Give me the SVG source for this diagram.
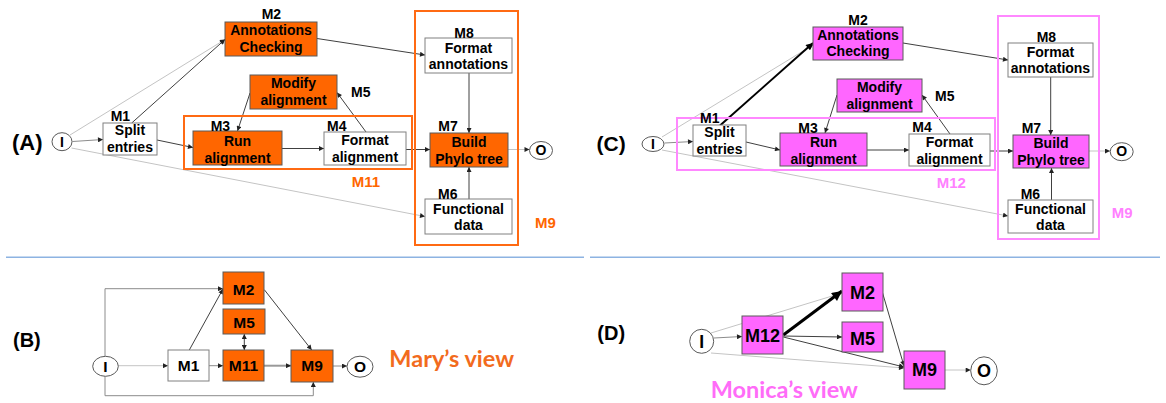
<svg xmlns="http://www.w3.org/2000/svg" width="1166" height="403" viewBox="0 0 1166 403">
<style>
.bg{fill:#fff}
.nw{fill:#fff;stroke:#808080;stroke-width:1}
.no{fill:#ff6600;stroke:#5a5a5a;stroke-width:1}
.nm{fill:#ff66ff;stroke:#5a5a5a;stroke-width:1}
.io{fill:#fff;stroke:#595959;stroke-width:1}
.grpO{fill:none;stroke:#ff6a13;stroke-width:2}
.grpM{fill:none;stroke:#ff88ff;stroke-width:2}
text{font-family:"Liberation Sans",Arial,sans-serif;font-weight:bold;fill:#000}
.t14{font-size:14px;text-anchor:middle}
.l14{font-size:14px}
.ol{font-size:15px;fill:#ff6600}
.ml{font-size:15px;fill:#ff80ff}
.pl{font-size:21px}
.tb{font-size:15.5px;text-anchor:middle}
.td{font-size:18px;text-anchor:middle}
.view{font-family:Lato,"Open Sans",sans-serif;font-weight:bold;font-size:23.5px}
.cd{fill:none;stroke:#404040;stroke-width:1;marker-end:url(#ah)}
.cg{fill:none;stroke:#8c8c8c;stroke-width:1;marker-end:url(#ah)}
.cl{fill:none;stroke:#c4c4c4;stroke-width:1;marker-end:url(#ah)}
.div{stroke:#8db3e2;stroke-width:1.5}
</style>
<defs>
<marker id="ah" viewBox="0 0 10 10" refX="10" refY="5" markerWidth="6" markerHeight="5" markerUnits="userSpaceOnUse" orient="auto"><path d="M0,0 L10,5 L0,10 z" fill="#222"/></marker>
<marker id="ahs" viewBox="0 0 10 10" refX="10" refY="5" markerWidth="6" markerHeight="5" markerUnits="userSpaceOnUse" orient="auto-start-reverse"><path d="M0,0 L10,5 L0,10 z" fill="#222"/></marker>
<marker id="ahM" viewBox="0 0 10 10" refX="10" refY="5" markerWidth="8" markerHeight="7" markerUnits="userSpaceOnUse" orient="auto"><path d="M0,0 L10,5 L0,10 z" fill="#000"/></marker>
<marker id="ahB" viewBox="0 0 10 10" refX="10" refY="5" markerWidth="12" markerHeight="10" markerUnits="userSpaceOnUse" orient="auto"><path d="M0,0 L10,5 L0,10 z" fill="#000"/></marker>
</defs>
<rect class="bg" x="0" y="0" width="1166" height="403"/>

<g id="dividers">
<line class="div" x1="6" y1="257.3" x2="584" y2="257.3"/>
<line class="div" x1="590" y1="257.3" x2="1160" y2="257.3"/>
</g>

<g id="panel-labels">
<text class="pl" x="12" y="150" style="font-size:22px">(A)</text>
<text class="pl" x="596.5" y="151">(C)</text>
<text class="pl" x="13" y="346.5" style="font-size:20px">(B)</text>
<text class="pl" x="597.3" y="340" style="font-size:20px">(D)</text>
<text class="view" x="389.3" y="366.7" style="fill:#f26b1d">Mary’s view</text>
<text class="view" x="710.7" y="398" style="fill:#ff6cf8">Monica’s view</text>
</g>

<!-- ===== Panel A ===== -->
<g id="connectors-A">
<path class="cl" d="M70,135 L225,39.5"/>
<path class="cd" d="M131.7,123 L225,39.5"/>
<path class="cg" d="M72.5,141.5 L103,139.5"/>
<path class="cl" d="M71.5,148 L425,216.5"/>
<path class="cd" d="M157,140 L193,147.5"/>
<path class="cd" d="M250,93 L237.5,131"/>
<path class="cd" d="M282,148.5 L324,148.5"/>
<path class="cd" d="M366,132 L337,92.5"/>
<path class="cd" d="M406,149.5 L430,149.5"/>
<path class="cd" d="M317,38.5 L425,55"/>
<path class="cd" d="M469,73 L469,133"/>
<path class="cd" d="M469,199 L469,167"/>
<path class="cl" d="M508,149.5 L529.5,149.5"/>
</g>
<g id="A-M11"><rect class="grpO" x="184" y="116" width="228" height="53"/><text class="ol" x="351.7" y="187.3">M11</text></g>
<g id="A-M9"><rect class="grpO" x="415" y="11" width="103" height="234"/><text class="ol" x="535" y="228">M9</text></g>
<g id="A-I"><ellipse class="io" cx="62" cy="141.7" rx="10" ry="9"/><text class="t14" x="62" y="146.7">I</text></g>
<g id="A-O"><ellipse class="io" cx="541" cy="150.5" rx="11.5" ry="9"/><text class="t14" x="541" y="155.3">O</text></g>
<g id="A-M1"><rect class="nw" x="103" y="123" width="54" height="32"/><text class="t14" x="130" y="135">Split</text><text class="t14" x="130" y="152">entries</text><text class="l14" x="110.7" y="120.7">M1</text></g>
<g id="A-M2"><rect class="no" x="225" y="22" width="92" height="34"/><text class="t14" x="271" y="35">Annotations</text><text class="t14" x="271" y="52">Checking</text><text class="l14" x="261.7" y="19.3">M2</text></g>
<g id="A-M5"><rect class="no" x="250" y="75" width="87" height="34"/><text class="t14" x="293.5" y="88">Modify</text><text class="t14" x="293.5" y="105">alignment</text><text class="l14" x="351" y="97.3">M5</text></g>
<g id="A-M3"><rect class="no" x="193" y="131" width="89" height="34"/><text class="t14" x="237.5" y="146">Run</text><text class="t14" x="237.5" y="162.5">alignment</text><text class="l14" x="210.7" y="130.7">M3</text></g>
<g id="A-M4"><rect class="nw" x="324" y="132" width="82" height="33"/><text class="t14" x="365" y="144.5">Format</text><text class="t14" x="365" y="161.5">alignment</text><text class="l14" x="327" y="130.7">M4</text></g>
<g id="A-M8"><rect class="nw" x="425" y="38" width="87" height="35"/><text class="t14" x="468.5" y="52.5">Format</text><text class="t14" x="468.5" y="69">annotations</text><text class="l14" x="454.3" y="37.7">M8</text></g>
<g id="A-M7"><rect class="no" x="430" y="133" width="78" height="34"/><text class="t14" x="469" y="147">Build</text><text class="t14" x="469" y="163.5">Phylo tree</text><text class="l14" x="438.3" y="130.7">M7</text></g>
<g id="A-M6"><rect class="nw" x="425" y="199" width="87" height="35"/><text class="t14" x="468.5" y="213.5">Functional</text><text class="t14" x="468.5" y="230">data</text><text class="l14" x="438" y="199">M6</text></g>

<!-- ===== Panel C ===== -->
<g id="connectors-C">
<path class="cl" d="M662,137 L813,45"/>
<path d="M720,125.5 L813,43" fill="none" stroke="#000" stroke-width="2" marker-end="url(#ahM)"/>
<path class="cg" d="M664.5,143 L693,141.5"/>
<path class="cl" d="M662,150 L1008,216"/>
<path class="cd" d="M746,142 L780,150"/>
<path class="cd" d="M837,95 L825,133"/>
<path class="cd" d="M867,150 L909,150"/>
<path class="cd" d="M950,134 L922,95"/>
<path class="cd" d="M990,151 L1013,151"/>
<path class="cd" d="M903,43 L1008,60"/>
<path class="cd" d="M1050.7,77 L1050.7,135"/>
<path class="cd" d="M1051.5,200 L1051.5,168"/>
<path class="cl" d="M1089,151 L1110,151"/>
</g>
<g id="C-M12"><rect class="grpM" x="677" y="118" width="318" height="52"/><text class="ml" x="936.7" y="188.3">M12</text></g>
<g id="C-M9"><rect class="grpM" x="998" y="16" width="101" height="223"/><text class="ml" x="1111.7" y="218">M9</text></g>
<g id="C-I"><ellipse class="io" cx="653" cy="144" rx="11" ry="7.5"/><text class="t14" x="653" y="148.5">I</text></g>
<g id="C-O"><ellipse class="io" cx="1121.7" cy="151.7" rx="11.5" ry="9"/><text class="t14" x="1121.7" y="156.3">O</text></g>
<g id="C-M1"><rect class="nw" x="693" y="125" width="53" height="31"/><text class="t14" x="719.5" y="137">Split</text><text class="t14" x="719.5" y="154">entries</text><text class="l14" x="700" y="122.7">M1</text></g>
<g id="C-M2"><rect class="nm" x="813" y="27" width="90" height="33"/><text class="t14" x="858" y="39.5">Annotations</text><text class="t14" x="858" y="56">Checking</text><text class="l14" x="848.3" y="25">M2</text></g>
<g id="C-M5"><rect class="nm" x="837" y="79" width="85" height="33"/><text class="t14" x="879.5" y="92">Modify</text><text class="t14" x="879.5" y="108.5">alignment</text><text class="l14" x="935" y="100.7">M5</text></g>
<g id="C-M3"><rect class="nm" x="780" y="133" width="87" height="33"/><text class="t14" x="823.5" y="147">Run</text><text class="t14" x="823.5" y="163.5">alignment</text><text class="l14" x="798.3" y="132.7">M3</text></g>
<g id="C-M4"><rect class="nw" x="909" y="134" width="81" height="32"/><text class="t14" x="949.5" y="147">Format</text><text class="t14" x="949.5" y="163.5">alignment</text><text class="l14" x="912.3" y="132">M4</text></g>
<g id="C-M8"><rect class="nw" x="1008" y="43" width="85" height="34"/><text class="t14" x="1050.5" y="57">Format</text><text class="t14" x="1050.5" y="73">annotations</text><text class="l14" x="1036.7" y="41.5">M8</text></g>
<g id="C-M7"><rect class="nm" x="1013" y="135" width="76" height="33"/><text class="t14" x="1051" y="147.5">Build</text><text class="t14" x="1051" y="164.5">Phylo tree</text><text class="l14" x="1021.7" y="132.7">M7</text></g>
<g id="C-M6"><rect class="nw" x="1008" y="200" width="85" height="33"/><text class="t14" x="1050.5" y="213.5">Functional</text><text class="t14" x="1050.5" y="230">data</text><text class="l14" x="1020.7" y="199">M6</text></g>

<!-- ===== Panel B ===== -->
<g id="connectors-B">
<path class="cl" d="M118.3,365.7 L168,365.7"/>
<path class="cg" d="M105,356.3 L105,288.7 L223,288.7"/>
<path class="cg" d="M105,376.3 L105,395.7 L313.3,395.7 L313.3,382"/>
<path class="cd" d="M189.3,350 L223,289"/>
<path class="cg" d="M209,365.7 L223,365.7"/>
<path d="M244.3,334 L244.3,350" fill="none" stroke="#404040" stroke-width="1" marker-start="url(#ahs)" marker-end="url(#ah)"/>
<path d="M264,365.7 L291,365.7" fill="none" stroke="#999" stroke-width="2" marker-end="url(#ah)"/>
<path class="cd" d="M264.3,289.7 L311.7,350"/>
<path class="cg" d="M333,366 L347,366"/>
</g>
<g id="B-I"><ellipse class="io" cx="105.5" cy="366.3" rx="12.8" ry="10"/><text class="tb" x="105.5" y="371.8">I</text></g>
<g id="B-O"><ellipse class="io" cx="360" cy="366.7" rx="13" ry="10.5"/><text class="tb" x="360" y="372.2">O</text></g>
<g id="B-M1"><rect class="nw" x="168" y="350" width="41" height="31"/><text class="tb" x="188.5" y="371.3">M1</text></g>
<g id="B-M11"><rect class="no" x="223" y="350" width="41" height="31"/><text class="tb" x="243.5" y="371.3">M11</text></g>
<g id="B-M5"><rect class="no" x="223" y="309" width="42" height="25"/><text class="tb" x="244" y="328">M5</text></g>
<g id="B-M2"><rect class="no" x="223" y="272" width="41" height="32"/><text class="tb" x="243.5" y="295.3">M2</text></g>
<g id="B-M9"><rect class="no" x="291" y="350" width="42" height="32"/><text class="tb" x="312" y="371.3">M9</text></g>

<!-- ===== Panel D ===== -->
<g id="connectors-D">
<path class="cg" d="M714,338 L742,336.5"/>
<path class="cl" d="M711,333 L842,293"/>
<path class="cl" d="M711,353 L904,368"/>
<path d="M783.3,335 L842,291" fill="none" stroke="#000" stroke-width="3" marker-end="url(#ahB)"/>
<path class="cd" d="M783.3,336 L842,337"/>
<path class="cd" d="M783.3,337 L904,367"/>
<path class="cd" d="M882,291 L904,366"/>
<path class="cl" d="M945,370 L970.7,370"/>
</g>
<g id="D-I"><ellipse class="io" cx="701.7" cy="341.3" rx="12" ry="12"/><text class="td" x="701.7" y="347.5" style="font-size:17.5px">I</text></g>
<g id="D-O"><ellipse class="io" cx="984" cy="370.8" rx="13.3" ry="14"/><text class="td" x="984" y="377.3">O</text></g>
<g id="D-M12"><rect class="nm" x="742" y="316" width="41" height="38"/><text class="td" x="762.5" y="342.3">M12</text></g>
<g id="D-M2"><rect class="nm" x="842" y="273" width="41" height="38"/><text class="td" x="862.5" y="299">M2</text></g>
<g id="D-M5"><rect class="nm" x="842" y="322" width="41" height="30"/><text class="td" x="862.5" y="345.3">M5</text></g>
<g id="D-M9"><rect class="nm" x="904" y="351" width="41" height="38"/><text class="td" x="924.5" y="376.3">M9</text></g>
</svg>
